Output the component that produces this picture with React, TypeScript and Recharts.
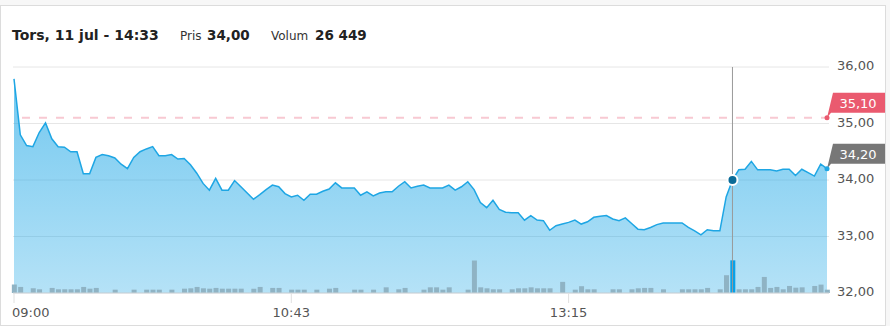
import {
  Area,
  Bar,
  CartesianGrid,
  Cell,
  ComposedChart,
  ReferenceDot,
  ReferenceLine,
  XAxis,
  YAxis,
} from "recharts";

// price per trade slot
const prices = [
  35.79, 34.8, 34.61, 34.59, 34.84, 35.01, 34.73, 34.59, 34.58, 34.5,
  34.5, 34.11, 34.11, 34.4, 34.45, 34.43, 34.39, 34.28, 34.2, 34.4,
  34.5, 34.55, 34.59, 34.43, 34.43, 34.45, 34.37, 34.38, 34.27, 34.12,
  33.94, 33.82, 34.03, 33.82, 33.82, 33.99, 33.88, 33.77, 33.66, 33.74,
  33.83, 33.91, 33.88, 33.76, 33.7, 33.73, 33.64, 33.75, 33.75, 33.8,
  33.84, 33.95, 33.86, 33.86, 33.86, 33.73, 33.79, 33.72, 33.77, 33.79,
  33.79, 33.89, 33.97, 33.86, 33.89, 33.91, 33.86, 33.86, 33.86, 33.91,
  33.82, 33.88, 33.97, 33.83, 33.6, 33.51, 33.64, 33.48, 33.43, 33.42,
  33.42, 33.29, 33.37, 33.29, 33.28, 33.11, 33.19, 33.22, 33.25, 33.29,
  33.22, 33.26, 33.34, 33.36, 33.37, 33.31, 33.28, 33.33, 33.23, 33.13,
  33.12, 33.16, 33.21, 33.24, 33.24, 33.24, 33.24, 33.16, 33.1, 33.03,
  33.12, 33.1, 33.1, 33.7, 34.0, 34.18, 34.19, 34.33, 34.18, 34.18,
  34.18, 34.16, 34.19, 34.19, 34.08, 34.19, 34.13, 34.07, 34.28, 34.2,
];

const volumes = [
  6800, 4900, 0, 3800, 3000, 0, 4100, 3000, 3000, 3000,
  3000, 4900, 3500, 4100, 0, 0, 2700, 0, 0, 2700,
  0, 2700, 2700, 2700, 0, 2700, 0, 3500, 3800, 4900,
  3800, 3500, 4100, 3500, 3500, 3500, 3500, 0, 3500, 4900,
  0, 4100, 4100, 0, 2700, 2700, 2700, 0, 2700, 0,
  3500, 4100, 0, 0, 2700, 2700, 0, 2700, 0, 4600,
  0, 3000, 4100, 0, 0, 2700, 4600, 4600, 2700, 4600,
  0, 0, 2700, 26300, 4600, 3800, 3000, 3000, 0, 3000,
  3800, 3800, 4600, 3800, 3800, 3800, 0, 9000, 0, 2700,
  5500, 3000, 3000, 0, 0, 3000, 3000, 0, 3000, 3800,
  4100, 4100, 0, 3000, 0, 0, 3000, 3000, 3000, 3000,
  4100, 0, 3000, 14400, 26449, 3000, 3000, 3000, 4900, 13000,
  4100, 4900, 3000, 5700, 4300, 4600, 0, 5700, 6800, 2700,
];

const tickIndexes = [0, 44, 88];
const tickLabels = ["09:00", "10:43", "13:15"];
const priceTicks = [32, 33, 34, 35, 36];
const prevClose = 35.1;
const selectedIndex = 114;
const selectedTime = "Tors, 11 jul - 14:33";
const lastIndex = prices.length - 1;

const chartData = prices.map((price, i) => ({ i, price, volume: volumes[i] }));

const FONT = "'DejaVu Sans', Verdana, sans-serif";
const fmt = (v: number) => v.toFixed(2).replace(".", ",");
const fmtVol = (v: number) => String(v).replace(/\B(?=(\d{3})+(?!\d))/g, " ");

function TimeTick({ x, y, payload }: any) {
  const idx = tickIndexes.indexOf(payload.value);
  const first = idx === 0;
  return (
    <text
      x={first ? x - 2 : x}
      y={y + 12}
      textAnchor={first ? "start" : "middle"}
      fill="#555"
      fontSize={13}
      fontFamily={FONT}
    >
      {tickLabels[idx]}
    </text>
  );
}

function PriceTick({ x, y, payload }: any) {
  return (
    <text x={x} y={y + 3} textAnchor="start" fill="#555" fontSize={13} fontFamily={FONT}>
      {fmt(payload.value)}
    </text>
  );
}

const makeTag = (color: string, dotColor: string, label: string) => (props: any) => {
  const { cx, cy } = props;
  return (
    <g>
      <path
        d={`M${cx},${cy} L${cx + 6},${cy - 25} L${cx + 58},${cy - 25} L${cx + 58},${cy - 5} L${cx + 4},${cy - 5} Z`}
        fill={color}
      />
      <circle cx={cx} cy={cy} r={2.5} fill={dotColor} />
      <text x={cx + 31} y={cy - 10} textAnchor="middle" fill="#fff" fontSize={13} fontFamily={FONT}>
        {label}
      </text>
    </g>
  );
};

export default function App() {
  return (
    <div
      style={{
        position: "absolute",
        left: 0,
        top: 0,
        width: 890,
        height: 326,
        background: "#f7f7f7",
        overflow: "hidden",
      }}
    >
      <div
        style={{
          position: "absolute",
          left: 0,
          top: 5,
          width: 884,
          height: 319,
          border: "1px solid #dcdcdc",
          background: "#fff",
        }}
      />
      <svg width={890} height={50} style={{ position: "absolute", left: 0, top: 0 }}>
        <text x={12} y={40} fontSize={14} fontWeight="bold" fill="#222" fontFamily={FONT}>
          {selectedTime}
        </text>
        <text x={180} y={40} fontSize={12} fill="#333" fontFamily={FONT}>
          Pris
        </text>
        <text x={207} y={40} fontSize={13.5} fontWeight="bold" fill="#222" fontFamily={FONT}>
          {fmt(prices[selectedIndex])}
        </text>
        <text x={271} y={40} fontSize={12} fill="#333" fontFamily={FONT}>
          Volum
        </text>
        <text x={315} y={40} fontSize={13.5} fontWeight="bold" fill="#222" fontFamily={FONT}>
          {fmtVol(volumes[selectedIndex])}
        </text>
      </svg>
      <div style={{ position: "absolute", left: 0, top: 0 }}>
        <ComposedChart
          width={890}
          height={326}
          data={chartData}
          margin={{ top: 67, right: 6, bottom: 3, left: 13 }}
        >
          <defs>
            <linearGradient id="priceFill" x1="0" y1="0" x2="0" y2="1">
              <stop offset="0%" stopColor="#1ea7e6" stopOpacity={0.62} />
              <stop offset="100%" stopColor="#1ea7e6" stopOpacity={0.33} />
            </linearGradient>
          </defs>
          <CartesianGrid yAxisId="price" vertical={false} stroke="#e6e6e6" />
          <XAxis
            dataKey="i"
            type="number"
            domain={[0, lastIndex]}
            ticks={tickIndexes}
            interval={0}
            padding={{ left: 1, right: 2 }}
            axisLine={{ stroke: "#cdd4d9" }}
            tickLine={{ stroke: "#e0e0e0" }}
            tickSize={10}
            tickMargin={2}
            height={30}
            tick={<TimeTick />}
          />
          <YAxis
            yAxisId="price"
            orientation="right"
            domain={[32, 36]}
            ticks={priceTicks}
            axisLine={false}
            tickLine={false}
            tickSize={6}
            tickMargin={2}
            width={55}
            tick={<PriceTick />}
          />
          <YAxis yAxisId="vol" hide domain={[0, 183000]} />
          <Area
            yAxisId="price"
            type="linear"
            dataKey="price"
            stroke="#1ea6e4"
            strokeWidth={1.5}
            fill="url(#priceFill)"
            fillOpacity={1}
            dot={false}
            activeDot={false}
            isAnimationActive={false}
          />
          <Bar yAxisId="vol" dataKey="volume" barSize={5} isAnimationActive={false}>
            {chartData.map((d) => (
              <Cell key={d.i} fill={d.i === selectedIndex ? "#0aa0e6" : "#8fb3c4"} />
            ))}
          </Bar>
          <ReferenceLine
            yAxisId="price"
            y={prevClose}
            stroke="#f8c9d2"
            strokeWidth={2}
            strokeDasharray="8 9"
          />
          <ReferenceLine yAxisId="price" x={selectedIndex} stroke="#999" strokeWidth={1} />
          <ReferenceDot
            yAxisId="price"
            x={lastIndex}
            y={prevClose}
            shape={makeTag("#ea5a6f", "#ea5a6f", fmt(prevClose))}
          />
          <ReferenceDot
            yAxisId="price"
            x={lastIndex}
            y={prices[lastIndex]}
            shape={makeTag("#777", "#1ea6e4", fmt(prices[lastIndex]))}
          />
          <ReferenceDot
            yAxisId="price"
            x={selectedIndex}
            y={prices[selectedIndex]}
            r={5}
            fill="#0b6c98"
            stroke="#fff"
            strokeWidth={2}
          />
        </ComposedChart>
      </div>
    </div>
  );
}
